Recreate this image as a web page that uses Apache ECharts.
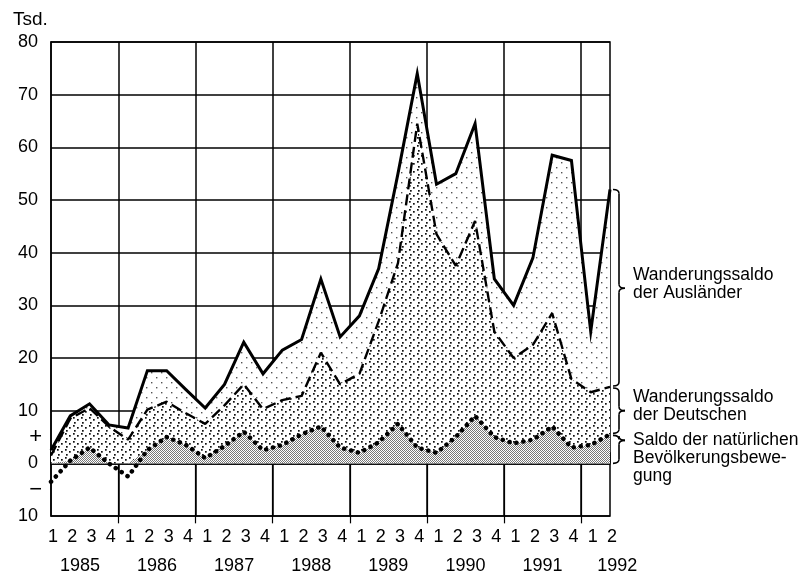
<!DOCTYPE html>
<html>
<head>
<meta charset="utf-8">
<script src="https://cdn.jsdelivr.net/npm/echarts@6/dist/echarts.min.js"></script>
<style>
html,body{margin:0;padding:0;background:#fff;}
#chart{width:809px;height:583px;}
</style>
</head>
<body>
<div id="chart"></div>
<script>
// ---- data ----
const years = ['1985', '1986', '1987', '1988', '1989', '1990', '1991', '1992'];
const quartersInYear = [4, 4, 4, 4, 4, 4, 4, 2];
const quarterLabels = ['1','2','3','4','1','2','3','4','1','2','3','4','1','2','3','4',
                       '1','2','3','4','1','2','3','4','1','2','3','4','1','2'];
// solid line: total (upper edge of "Wanderungssaldo der Ausländer")
const totalLevel = [2.5, 9, 11.3, 7.3, 6.7, 17.6, 17.6, 14, 10.5, 15, 23, 17, 21.5, 23.5, 35, 24,
                    28, 37, 55, 74, 53, 55, 64.5, 35, 30, 39, 58.5, 57.5, 25, 52];
// dashed line: upper edge of "Wanderungssaldo der Deutschen"
const germansLevel = [1.5, 8.5, 10.5, 7, 4.5, 10.2, 11.7, 9.5, 7.5, 11, 15, 10.3, 12, 12.8, 21, 15,
                      17, 27, 38, 64.5, 43.5, 37.5, 46, 25, 20, 22.5, 28.5, 16, 13.5, 14.5];
// dotted line: "Saldo der natürlichen Bevölkerungsbewegung"
const naturalLevel = [-3.5, 0.5, 3, 0, -2.5, 2.5, 5, 3.5, 1, 3.3, 6, 2.5, 3.5, 5.5, 7, 3,
                      2, 4, 7.5, 3, 2, 5, 9, 5, 3.8, 4.5, 7, 3, 3.5, 5.5];
const yTickValues = [-10, 0, 10, 20, 30, 40, 50, 60, 70, 80];
const yTickText = ['10', '0', '10', '20', '30', '40', '50', '60', '70', '80'];
const signTickValues = [-5, 5];
const signTickText = ['\u2212', '+'];
const unitLabel = 'Tsd.';
const sideLabels = ['Wanderungssaldo\nder Ausländer',
                    'Wanderungssaldo\nder Deutschen',
                    'Saldo der natürlichen\nBevölkerungsbewe-\ngung'];

// ---- derived structures ----
const categories = [];
years.forEach((y, k) => { for (let q = 1; q <= quartersInYear[k]; q++) categories.push(y + '/' + q); });
const halfCats = [];
for (let k = 0; k < categories.length * 2 - 1; k++) halfCats.push('h' + k);
const yearCenterHalf = {};
const separatorHalf = new Set();
let start = 0;
let lastYearHalf = -1;
years.forEach((y, k) => {
  const n = quartersInYear[k];
  yearCenterHalf[2 * start + n - 1] = y;
  lastYearHalf = 2 * start + n - 1;
  if (k > 0) separatorHalf.add(2 * start - 1);
  start += n;
});
const naturalArea = naturalLevel.map(v => Math.max(v, 0));

// ---- fill patterns ----
function makePattern(size, bg, dots, dotSize, color) {
  const c = document.createElement('canvas');
  c.width = size; c.height = size;
  const g = c.getContext('2d');
  g.fillStyle = bg; g.fillRect(0, 0, size, size);
  g.fillStyle = color;
  dots.forEach(d => g.fillRect(d[0], d[1], dotSize, dotSize));
  return { image: c, repeat: 'repeat' };
}
const patForeign = makePattern(10, '#ffffff', [[1, 2], [6, 7]], 1.4, '#555');
const patGerman = makePattern(8, '#ffffff', [[1, 1], [5, 3], [2, 6]], 1.7, '#111');
const patNatural = makePattern(2, '#ffffff', [[0, 0], [1, 1]], 1, '#777');

const FONT = 'Liberation Sans, Arial, Helvetica, sans-serif';
const chart = echarts.init(document.getElementById('chart'), null, { renderer: 'canvas' });

const option = {
  animation: false,
  backgroundColor: '#fff',
  grid: { left: 51, top: 42, width: 559, height: 474, show: true, borderColor: '#000', borderWidth: 1.5, backgroundColor: 'transparent' },
  xAxis: [
    {
      type: 'category', data: categories, boundaryGap: false, position: 'bottom',
      axisLine: { show: true, lineStyle: { color: '#000', width: 1.5 } },
      axisTick: { show: true, inside: true, length: 11, interval: 0, lineStyle: { color: '#000', width: 1.5 } },
      axisLabel: { interval: 0, margin: 12, color: '#000', fontSize: 18, fontFamily: FONT,
                   formatter: (v, i) => '{q|' + quarterLabels[i] + '}',
                   rich: { q: { fontSize: 18, fontFamily: FONT, color: '#000', padding: [0, 0, 0, 4] } } },
      splitLine: { show: false }
    },
    {
      type: 'category', data: halfCats, boundaryGap: false, position: 'bottom',
      axisLine: { show: false },
      axisTick: { show: true, inside: false, length: 60, interval: i => separatorHalf.has(i),
                  lineStyle: { color: '#000', width: 1.2 } },
      axisLabel: { interval: i => (i in yearCenterHalf), margin: 41, color: '#000', fontSize: 18, fontFamily: FONT,
                   formatter: (v, i) => (i === lastYearHalf ? '{r|' + yearCenterHalf[i] + '}' : (yearCenterHalf[i] || '')),
                   rich: { r: { fontSize: 18, fontFamily: FONT, color: '#000', padding: [0, 0, 0, 34] } } },
      splitLine: { show: true, interval: i => separatorHalf.has(i), lineStyle: { color: '#000', width: 1.5 } }
    }
  ],
  yAxis: [
    {
      type: 'value', min: -10, max: 80, interval: 10, position: 'left',
      axisLine: { show: true, lineStyle: { color: '#000', width: 1.5 } },
      axisTick: { show: false },
      axisLabel: { margin: 13, color: '#000', fontSize: 18, fontFamily: FONT,
                   formatter: v => { const k = yTickValues.indexOf(v); return k >= 0 ? yTickText[k] : ''; } },
      splitLine: { show: true, lineStyle: { color: '#000', width: 1.5 } }
    },
    {
      type: 'value', min: -10, max: 80, interval: 5, position: 'left',
      axisLine: { show: false }, axisTick: { show: false }, splitLine: { show: false },
      axisLabel: { margin: 9, color: '#000', fontSize: 22, fontFamily: FONT,
                   formatter: v => { const k = signTickValues.indexOf(v); return k >= 0 ? signTickText[k] : ''; } }
    }
  ],
  series: [
    { type: 'line', data: totalLevel, symbol: 'none', silent: true, z: 1,
      lineStyle: { width: 0, opacity: 0 }, areaStyle: { color: patForeign, opacity: 1 } },
    { type: 'line', data: germansLevel, symbol: 'none', silent: true, z: 1,
      lineStyle: { width: 0, opacity: 0 }, areaStyle: { color: patGerman, opacity: 1 } },
    { type: 'line', data: naturalArea, symbol: 'none', silent: true, z: 1,
      lineStyle: { width: 0, opacity: 0 }, areaStyle: { color: patNatural, opacity: 1 } },
    { type: 'line', data: totalLevel, symbol: 'none', silent: true, z: 4,
      lineStyle: { color: '#000', width: 3, join: 'miter' } },
    { type: 'line', data: germansLevel, symbol: 'none', silent: true, z: 4,
      lineStyle: { color: '#000', width: 2.4, type: [11, 5] } },
    { type: 'line', data: naturalLevel, symbol: 'none', silent: true, z: 4,
      lineStyle: { color: '#000', width: 4.5, type: [0.1, 7], cap: 'round' } }
  ]
};
chart.setOption(option);

// ---- braces and side labels anchored to the last data values ----
const last = categories.length - 1;
const P = (v) => chart.convertToPixel({ xAxisIndex: 0, yAxisIndex: 0 }, [last, v]);
const xr = P(0)[0] + 3;
const bStyle = { stroke: '#000', lineWidth: 1.6, fill: null };
function brace(y1, y2, tip) {
  const x = xr, m = x + 6, t = x + 12, r = 4;
  return [
    { type: 'bezierCurve', shape: { x1: x, y1: y1, x2: m, y2: y1 + r, cpx1: m, cpy1: y1 }, style: bStyle },
    { type: 'line', shape: { x1: m, y1: y1 + r, x2: m, y2: tip - r }, style: bStyle },
    { type: 'bezierCurve', shape: { x1: m, y1: tip - r, x2: t, y2: tip, cpx1: m, cpy1: tip }, style: bStyle },
    { type: 'bezierCurve', shape: { x1: t, y1: tip, x2: m, y2: tip + r, cpx1: m, cpy1: tip }, style: bStyle },
    { type: 'line', shape: { x1: m, y1: tip + r, x2: m, y2: y2 - r }, style: bStyle },
    { type: 'bezierCurve', shape: { x1: m, y1: y2 - r, x2: x, y2: y2, cpx1: m, cpy1: y2 }, style: bStyle }
  ];
}
const yT = P(totalLevel[last])[1];
const yG = P(germansLevel[last])[1];
const yN = P(naturalLevel[last])[1];
const y0 = P(0)[1];
const tips = [(yT + yG) / 2, (yG + yN) / 2, yN + 6];
const ranges = [[yT, yG - 1], [yG + 1, yN - 1], [yN + 1, y0]];
const graphics = [
  { type: 'text', x: 13, y: 10, style: { text: unitLabel, font: '19px ' + FONT, fill: '#000' } }
];
ranges.forEach((r, k) => { brace(r[0], r[1], tips[k]).forEach(e => graphics.push(e)); });
const lineH = 18;
sideLabels.forEach((txt, k) => {
  const n = txt.split('\n').length;
  const topY = k === 2 ? tips[k] - lineH / 2 : tips[k] - (n * lineH) / 2 - 4;
  graphics.push({ type: 'text', x: xr + 20, y: topY,
                  style: { text: txt, font: '17.5px ' + FONT, fill: '#000', lineHeight: lineH } });
});
chart.setOption({ graphic: graphics });
</script>
</body>
</html>
